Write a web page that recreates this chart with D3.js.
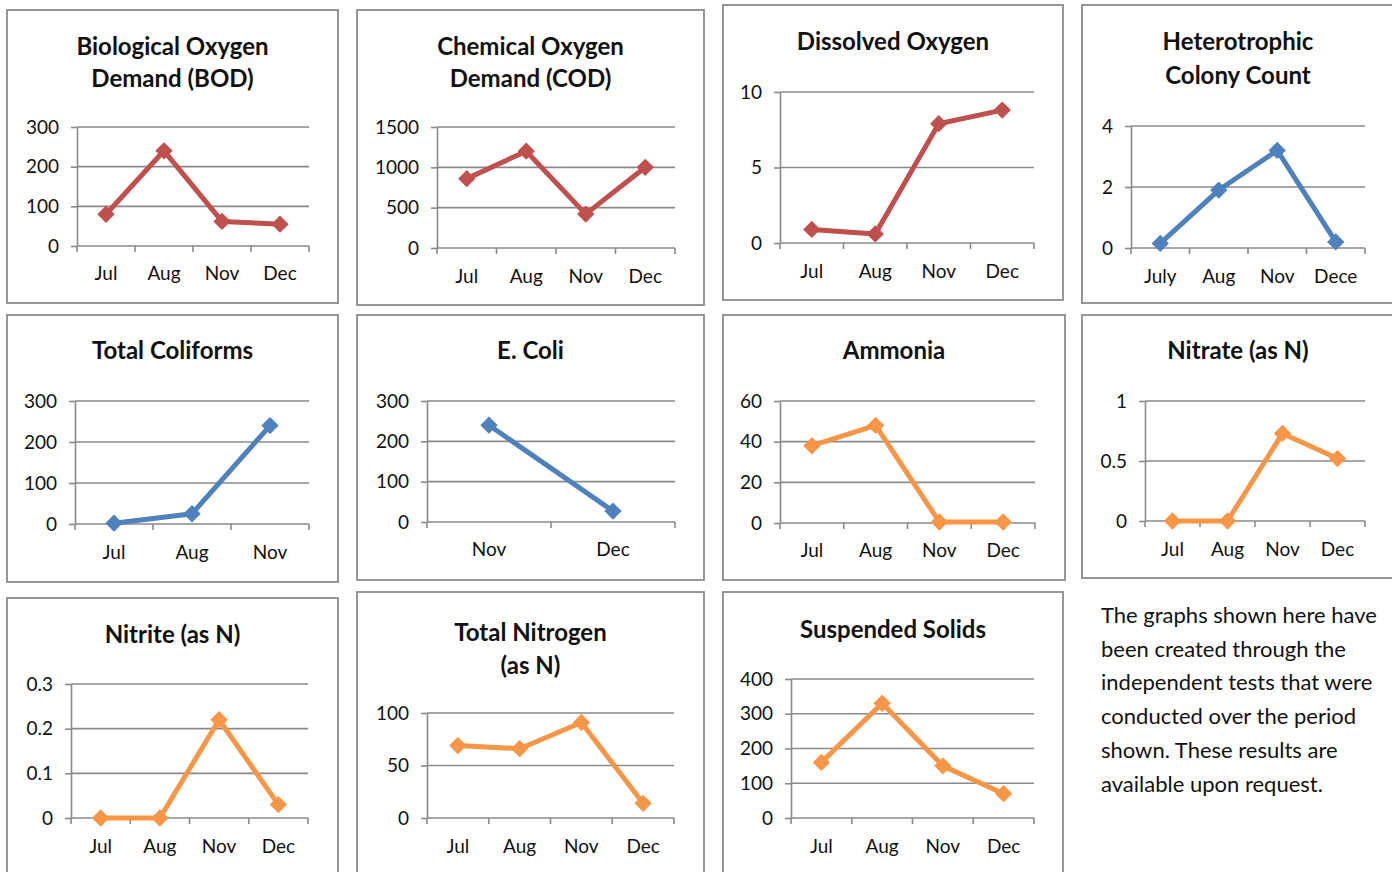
<!DOCTYPE html>
<html>
<head>
<meta charset="utf-8">
<script src="https://cdn.jsdelivr.net/npm/d3@7"></script>
<style>
  html, body { margin: 0; padding: 0; background: #fff; }
  svg { display: block; }
  text { font-family: Lato, "Open Sans", sans-serif; fill: #111; }
</style>
</head>
<body>
<svg id="chart" width="1392" height="872"></svg>
<script>
// values
const months = ['Jul', 'Aug', 'Nov', 'Dec']
const hccMonths = ['July', 'Aug', 'Nov', 'Dece']
const coliMonths = ['Jul', 'Aug', 'Nov']
const ecoliMonths = ['Nov', 'Dec']

const bodValues = [80, 240, 62, 55]
const codValues = [860, 1200, 420, 1000]
const doValues = [0.9, 0.6, 7.9, 8.8]
const hccValues = [0.15, 1.9, 3.2, 0.2]
const coliValues = [2, 25, 240]
const ecoliValues = [240, 27]
const ammoniaValues = [38, 48, 0.5, 0.5]
const nitrateValues = [0, 0, 0.73, 0.52]
const nitriteValues = [0, 0, 0.22, 0.03]
const tnValues = [69, 66, 91, 14]
const ssValues = [160, 330, 150, 70]

const bodTicks = [0, 100, 200, 300]
const codTicks = [0, 500, 1000, 1500]
const doTicks = [0, 5, 10]
const hccTicks = [0, 2, 4]
const coliTicks = [0, 100, 200, 300]
const ammoniaTicks = [0, 20, 40, 60]
const nitrateTicks = [0, 0.5, 1]
const nitriteTicks = [0, 0.1, 0.2, 0.3]
const tnTicks = [0, 50, 100]
const ssTicks = [0, 100, 200, 300, 400]

const noteLines = [
	'The graphs shown here have',
	'been created through the',
	'independent tests that were',
	'conducted over the period',
	'shown. These results are',
	'available upon request.',
]

const RED = '#c0504d'
const BLUE = '#4f81bd'
const ORANGE = '#f79646'

// panel layout: box [x, y, w, h], plot [left, right, top, bottom], title centre ys
const panels = [
	{ title: ['Biological Oxygen', 'Demand (BOD)'], cats: months, values: bodValues, ticks: bodTicks, color: RED,
		box: [7, 10, 331, 293], plot: [77, 309, 127, 246], titleY: [47, 79], labelY: 273 },
	{ title: ['Chemical Oxygen', 'Demand (COD)'], cats: months, values: codValues, ticks: codTicks, color: RED,
		box: [357, 10, 347, 295], plot: [437, 675, 127, 248], titleY: [47, 79], labelY: 276 },
	{ title: ['Dissolved Oxygen'], cats: months, values: doValues, ticks: doTicks, color: RED,
		box: [723, 5, 340, 295], plot: [780, 1034, 92, 243], titleY: [42], labelY: 271 },
	{ title: ['Heterotrophic', 'Colony Count'], cats: hccMonths, values: hccValues, ticks: hccTicks, color: BLUE,
		box: [1082, 5, 312, 298], plot: [1131, 1365, 126, 248], titleY: [42, 76], labelY: 276 },
	{ title: ['Total Coliforms'], cats: coliMonths, values: coliValues, ticks: coliTicks, color: BLUE,
		box: [7, 315, 331, 267], plot: [75, 309, 401, 524], titleY: [351], labelY: 552 },
	{ title: ['E. Coli'], cats: ecoliMonths, values: ecoliValues, ticks: coliTicks, color: BLUE,
		box: [357, 315, 347, 265], plot: [427, 675, 401, 522], titleY: [351], labelY: 549 },
	{ title: ['Ammonia'], cats: months, values: ammoniaValues, ticks: ammoniaTicks, color: ORANGE,
		box: [723, 315, 342, 265], plot: [780, 1035, 401, 523], titleY: [351], labelY: 550 },
	{ title: ['Nitrate (as N)'], cats: months, values: nitrateValues, ticks: nitrateTicks, color: ORANGE,
		box: [1082, 315, 312, 263], plot: [1145, 1365, 401, 521], titleY: [351], labelY: 549 },
	{ title: ['Nitrite (as N)'], cats: months, values: nitriteValues, ticks: nitriteTicks, color: ORANGE,
		box: [7, 598, 331, 290], plot: [71, 308, 684, 818], titleY: [635], labelY: 846 },
	{ title: ['Total Nitrogen', '(as N)'], cats: months, values: tnValues, ticks: tnTicks, color: ORANGE,
		box: [357, 592, 347, 296], plot: [427, 674, 713, 818], titleY: [633, 666], labelY: 846 },
	{ title: ['Suspended Solids'], cats: months, values: ssValues, ticks: ssTicks, color: ORANGE,
		box: [723, 592, 340, 296], plot: [791, 1034, 679, 818], titleY: [630], labelY: 846 },
]

const GRID = '#8a8a8a'
const svg = d3.select('#chart')

function drawPanel(p) {
	const g = svg.append('g')
	const [bx, by, bw, bh] = p.box
	const [left, right, top, bottom] = p.plot

	g.append('rect')
		.attr('x', bx).attr('y', by)
		.attr('width', bw).attr('height', bh)
		.attr('fill', '#fff')
		.attr('stroke', '#8c8c8c')
		.attr('stroke-width', 1.8)

	p.title.forEach((t, i) => {
		g.append('text')
			.attr('x', bx + bw / 2)
			.attr('y', p.titleY[i])
			.attr('dy', '0.35em')
			.attr('text-anchor', 'middle')
			.style('font-size', '24px')
			.style('font-weight', 700)
			.text(t)
	})

	const x = d3.scaleBand().domain(p.cats).range([left, right])
	const y = d3.scaleLinear().domain([0, d3.max(p.ticks)]).range([bottom, top])

	// gridlines
	g.selectAll('.grid').data(p.ticks).enter()
		.append('line')
			.attr('x1', left).attr('x2', right)
			.attr('y1', d => y(d)).attr('y2', d => y(d))
			.attr('stroke', GRID)
			.attr('stroke-width', 1.6)

	// y axis
	const yAxis = g.append('g')
		.attr('transform', `translate(${left},0)`)
		.call(d3.axisLeft(y).tickValues(p.ticks).tickSize(6).tickSizeOuter(0).tickPadding(12)
			.tickFormat(d3.format('~g')))
	yAxis.select('.domain').attr('stroke', GRID).attr('stroke-width', 1.6)
	yAxis.selectAll('.tick line').attr('stroke', GRID).attr('stroke-width', 1.6)
	yAxis.selectAll('.tick text')
		.style('font-size', '19px')
		.style('font-family', 'Lato, "Open Sans", sans-serif')
		.attr('fill', '#111')

	// x axis: ticks on category boundaries, labels at centres
	const bounds = p.cats.map(c => x(c)).concat([x.range()[1]])
	g.selectAll('.xtick').data(bounds).enter()
		.append('line')
			.attr('x1', d => d).attr('x2', d => d)
			.attr('y1', bottom).attr('y2', bottom + 6)
			.attr('stroke', GRID)
			.attr('stroke-width', 1.6)

	g.selectAll('.xlabel').data(p.cats).enter()
		.append('text')
			.attr('x', d => x(d) + x.bandwidth() / 2)
			.attr('y', p.labelY)
			.attr('dy', '0.35em')
			.attr('text-anchor', 'middle')
			.style('font-size', '19px')
			.text(d => d)

	const pts = p.cats.map((c, i) => [x(c) + x.bandwidth() / 2, y(p.values[i])])

	g.append('path')
		.attr('d', d3.line()(pts))
		.attr('fill', 'none')
		.attr('stroke', p.color)
		.attr('stroke-width', 5)
		.attr('stroke-linejoin', 'round')

	const diamond = d3.symbol().type(d3.symbolSquare).size(150)
	g.selectAll('.marker').data(pts).enter()
		.append('path')
			.attr('d', diamond)
			.attr('transform', d => `translate(${d[0]},${d[1]}) rotate(45)`)
			.attr('fill', p.color)
}

panels.forEach(drawPanel)

svg.append('g').selectAll('text').data(noteLines).enter()
	.append('text')
		.attr('x', 1101)
		.attr('y', (d, i) => 615 + i * 33.8)
		.attr('dy', '0.35em')
		.style('font-size', '22px')
		.text(d => d)
</script>
</body>
</html>
